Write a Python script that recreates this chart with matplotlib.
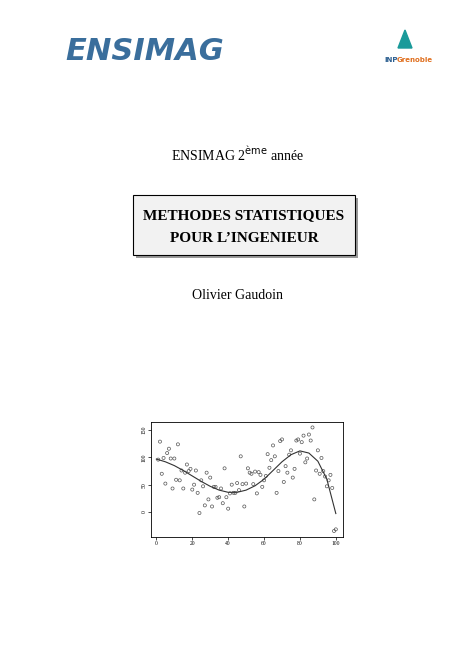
import numpy as np
import matplotlib.pyplot as plt
from matplotlib.patches import Rectangle, Polygon

# nuage de points
x_pts = np.arange(1, 101)
y_pts = [96, 129, 70, 99, 52, 108, 116, 98, 43, 98, 59, 124, 58, 76, 43, 72, 87, 75, 79, 41,
         50, 76, 35, -2, 58, 47, 12, 72, 23, 63, 10, 46, 46, 26, 27, 43, 16, 80, 27, 6,
         34, 50, 35, 35, 53, 40, 102, 51, 10, 52, 80, 72, 70, 51, 74, 34, 73, 68, 46, 58,
         66, 106, 81, 95, 122, 102, 35, 75, 130, 133, 55, 84, 72, 105, 113, 63, 79, 131, 133, 107,
         128, 140, 91, 98, 142, 131, 155, 23, 76, 113, 70, 99, 75, 65, 47, 58, 68, 44, -35, -32]

# courbe de regression
x_fit = [0, 5, 10, 15, 20, 25, 30, 35, 40, 45, 50, 55, 60, 65, 70, 75, 80, 85, 90, 95, 100]
y_fit = [97, 92, 85, 76, 66, 56, 47, 40, 36, 36, 40, 48, 60, 76, 92, 105, 112, 108, 93, 60, -3]

plt.rcParams['font.family'] = ['Liberation Serif', 'DejaVu Serif']

fig = plt.figure(figsize=(4.74, 6.70), dpi=100)
W, H = 474, 670

def fy(y):
    return 1 - y / H

# logos
fig.text(145 / W, fy(52), 'ENSIMAG', ha='center', va='center', fontsize=22, fontweight='bold',
         style='italic', color='#3a6e9c', family='DejaVu Sans')
fig.add_artist(Polygon([[398 / W, fy(48)], [405 / W, fy(30)], [412 / W, fy(48)]],
                       closed=True, color='#1a9a9a', transform=fig.transFigure))
fig.text(384 / W, fy(60), 'INP', ha='left', va='center', fontsize=5, fontweight='bold',
         color='#2a5d8f', family='DejaVu Sans')
fig.text(397 / W, fy(60), 'Grenoble', ha='left', va='center', fontsize=5, fontweight='bold',
         color='#e07020', family='DejaVu Sans')

fig.text(237 / W, fy(155), r'ENSIMAG 2$^{\rm ème}$ année', ha='center', va='center', fontsize=10)

# cadre du titre
fig.add_artist(Rectangle((136 / W, fy(258)), 222 / W, 60 / H, transform=fig.transFigure,
                         facecolor='#999999', edgecolor='none'))
fig.add_artist(Rectangle((133 / W, fy(255)), 222 / W, 60 / H, transform=fig.transFigure,
                         facecolor='#f2f2f2', edgecolor='black', lw=0.8))
fig.text(244 / W, fy(216), 'METHODES STATISTIQUES', ha='center', va='center', fontsize=11, fontweight='bold')
fig.text(244 / W, fy(238), 'POUR L\u2019INGENIEUR', ha='center', va='center', fontsize=11, fontweight='bold')

fig.text(237 / W, fy(295), 'Olivier Gaudoin', ha='center', va='center', fontsize=10)

# graphique
ax = fig.add_axes([151 / W, 1 - 537 / H, 192 / W, 115 / H])
ax.scatter(x_pts, y_pts, s=5, facecolors='none', edgecolors='#555555', linewidths=0.5)
ax.plot(x_fit, y_fit, color='#333333', lw=0.8)
ax.set_xlim(-3, 104)
ax.set_ylim(-46, 165)
ax.set_xticks([0, 20, 40, 60, 80, 100])
ax.set_yticks([0, 50, 100, 150])
ax.tick_params(labelsize=4, length=2, width=0.5, pad=1)
for lab in ax.get_yticklabels():
    lab.set_rotation(90)
    lab.set_va('center')
for s in ax.spines.values():
    s.set_linewidth(0.6)

fig.savefig('out.png', dpi=100)
